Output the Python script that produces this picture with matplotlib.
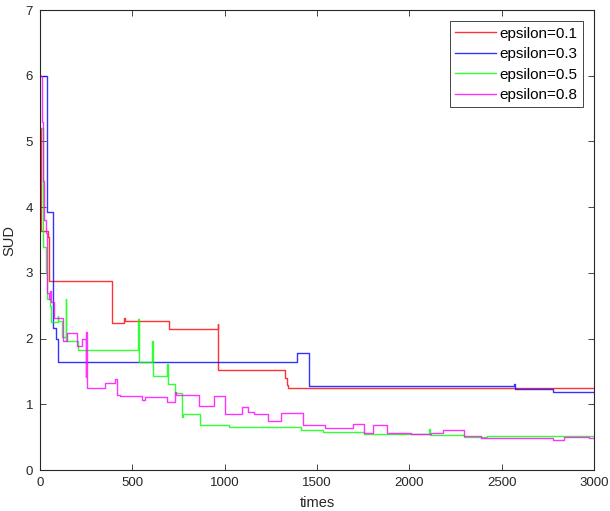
import numpy as np
import matplotlib

matplotlib.use('Agg')
import matplotlib.pyplot as plt

# SUD over time, one step curve per epsilon value
t_eps01 = [0, 4, 42, 50, 389, 457, 460, 700, 962, 966, 1329, 1336, 1345, 3000]
sud_eps01 = [5.2, 3.63, 3.55, 2.87, 2.24, 2.32, 2.27, 2.14, 2.22, 1.52, 1.40, 1.29, 1.245, 1.245]

t_eps03 = [0, 38, 69, 87, 96, 1392, 1455, 2569, 2573, 2777, 3000]
sud_eps03 = [6.0, 3.93, 2.16, 2.0, 1.65, 1.78, 1.28, 1.31, 1.23, 1.19, 1.19]

t_eps05 = [0, 18, 30, 36, 54, 60, 95, 100, 118, 138, 142, 199, 206, 530, 534,
           608, 612, 687, 691, 732, 769, 773, 868, 1022, 1411, 1534, 1754,
           2107, 2111, 2297, 2420, 3000]
sud_eps05 = [5.2, 3.4, 3.0, 2.6, 2.5, 2.26, 2.35, 2.27, 2.03, 2.6, 1.96, 1.96, 1.83, 2.30, 1.64,
             1.97, 1.43, 1.62, 1.31, 1.17, 0.81, 0.86, 0.69, 0.65, 0.61, 0.58, 0.55,
             0.62, 0.53, 0.51, 0.52, 0.52]

t_eps08 = [0, 10, 16, 22, 30, 40, 48, 56, 62, 78, 118, 126, 145, 199, 226, 248, 251, 257,
           353, 407, 415, 418, 434, 552, 570, 687, 732, 736, 850, 859, 940, 1004, 1094,
           1124, 1160, 1233, 1305, 1423, 1541, 1694, 1757, 1802, 1878, 2010, 2118,
           2181, 2298, 2388, 2560, 2777, 2840, 2975, 3000]
sud_eps08 = [6.0, 5.3, 4.4, 3.8, 3.6, 2.7, 2.6, 2.72, 2.55, 2.31, 2.31, 1.96, 2.08, 1.88, 2.0, 1.42, 2.1, 1.25,
             1.32, 1.38, 1.2, 1.14, 1.12, 1.07, 1.11, 1.04, 1.18, 1.14, 1.14, 0.98, 1.12, 0.85, 0.96,
             0.89, 0.85, 0.75, 0.87, 0.69, 0.64, 0.70, 0.57, 0.68, 0.56, 0.55, 0.57,
             0.61, 0.52, 0.48, 0.49, 0.46, 0.50, 0.48, 0.48]

labels = ['epsilon=0.1', 'epsilon=0.3', 'epsilon=0.5', 'epsilon=0.8']
colors = ['#FF0000', '#0000FF', '#00FF00', '#FF00FF']

plt.rcParams['font.family'] = ['Liberation Sans', 'DejaVu Sans']
plt.rcParams['font.size'] = 10

fig = plt.figure(figsize=(6.10, 5.11), dpi=100)
ax = fig.add_axes([0.0656, 0.0802, 0.9082, 0.9002])

series = [(t_eps01, sud_eps01), (t_eps03, sud_eps03),
          (t_eps05, sud_eps05), (t_eps08, sud_eps08)]
for (t, s), lab, col in zip(series, labels, colors):
    ax.plot(t, s, drawstyle='steps-post', color=col, linewidth=1.0,
            alpha=0.8, label=lab)

ax.set_xlim(0, 3000)
ax.set_ylim(0, 7)
ax.set_xticks(np.arange(0, 3001, 500))
ax.set_yticks(np.arange(0, 8, 1))
ax.set_xlabel('times', color='#262626', fontsize=10.5, labelpad=5)
ax.set_ylabel('SUD', color='#262626', fontsize=10.5, labelpad=7)

# matlab-like box: inward ticks on every side
ax.tick_params(direction='in', top=True, right=True, length=4, width=0.6,
               colors='#262626', labelsize=9.5, pad=5)
for sp in ax.spines.values():
    sp.set_linewidth(0.8)
    sp.set_color('#262626')

leg = ax.legend(loc='upper right', fontsize=11, fancybox=False, framealpha=1,
                edgecolor='#262626', handlelength=2.7, handletextpad=0.2,
                labelspacing=0.42, borderaxespad=0.75, borderpad=0.35)
leg.get_frame().set_linewidth(0.6)

fig.savefig('out.png', dpi=100)
